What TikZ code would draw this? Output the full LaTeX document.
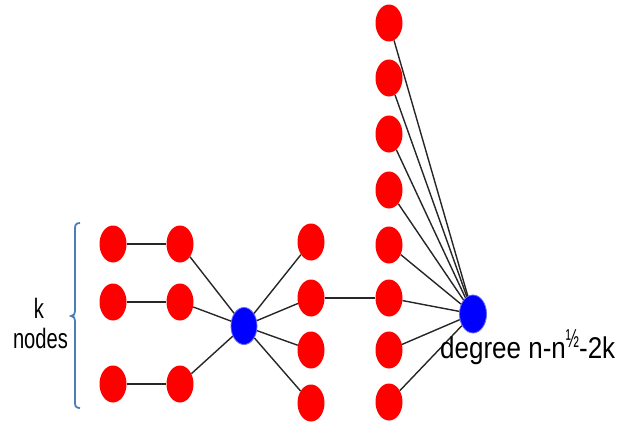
\documentclass[tikz,border=0pt]{standalone}
\usepackage{fontspec}
\setmainfont{Liberation Sans}
\usepackage{graphicx}
\usetikzlibrary{shapes.geometric}
\begin{document}
\begin{tikzpicture}[x=1pt,y=-1pt,
  rednode/.style={ellipse,fill=red,draw=none,minimum width=27pt,minimum height=37pt,inner sep=0pt},
  bluenode/.style={ellipse,fill=blue,draw=blue!60,line width=0.8pt,minimum width=26pt,minimum height=37pt,inner sep=0pt},
  edge/.style={line width=1.4pt,draw=black!85},
  bracecol/.style={draw={rgb,255:red,74;green,126;blue,187},line width=1.8pt},
  lbl/.style={inner sep=0pt,font=\fontsize{28}{30}\selectfont}]
\useasboundingbox (0,0) rectangle (619,423);
% column 1
\node[rednode] (a1) at (113,244) {};
\node[rednode] (a2) at (113,302) {};
\node[rednode] (a3) at (113,384) {};
% column 2
\node[rednode] (b1) at (180,244) {};
\node[rednode] (b2) at (180,302) {};
\node[rednode] (b3) at (180,384) {};
% blue centre
\node[bluenode] (c) at (244,326) {};
% column 3
\node[rednode] (d1) at (311,242) {};
\node[rednode] (d2) at (311,298) {};
\node[rednode] (d3) at (311,350) {};
\node[rednode] (d4) at (311,403) {};
% column 4
\foreach \i/\y in {1/23,2/78,3/134,4/190,5/245,6/298,7/350,8/402}
  \node[rednode] (e\i) at (389,\y) {};
% hub
\node[bluenode,minimum width=27pt,minimum height=38pt] (h) at (473,314) {};
% edges
\foreach \i in {1,2,3} {
  \draw[edge] (a\i) -- (b\i);
  \draw[edge] (b\i) -- (c);
}
\foreach \i in {1,2,3,4}
  \draw[edge] (c) -- (d\i);
\draw[edge] (d2) -- (e6);
\foreach \i in {1,...,8}
  \draw[edge] (e\i) -- (h);
% labels
\node[anchor=base west,inner sep=0pt] (deg) at (440,358)
  {\resizebox{175pt}{\height}{\fontsize{30}{30}\selectfont degree n-n\raisebox{11pt}{\scalebox{0.7}[1]{\fontsize{26}{26}\selectfont ½}}-2k}};
\node[lbl,anchor=base] (k) at (39,318) {\scalebox{0.72}[1]{k}};
\node[lbl,anchor=base] (nodes) at (40.5,348) {\scalebox{0.72}[1]{nodes}};
% brace
\draw[bracecol] (80,223) .. controls (76.5,223) and (75,224.5) .. (75,228) -- (75,311)
  .. controls (75,314) and (74,316) .. (71,316)
  .. controls (74,316) and (75,318) .. (75,321) -- (75,403)
  .. controls (75,406.5) and (76.5,408) .. (80,408);
\end{tikzpicture}
\end{document}
